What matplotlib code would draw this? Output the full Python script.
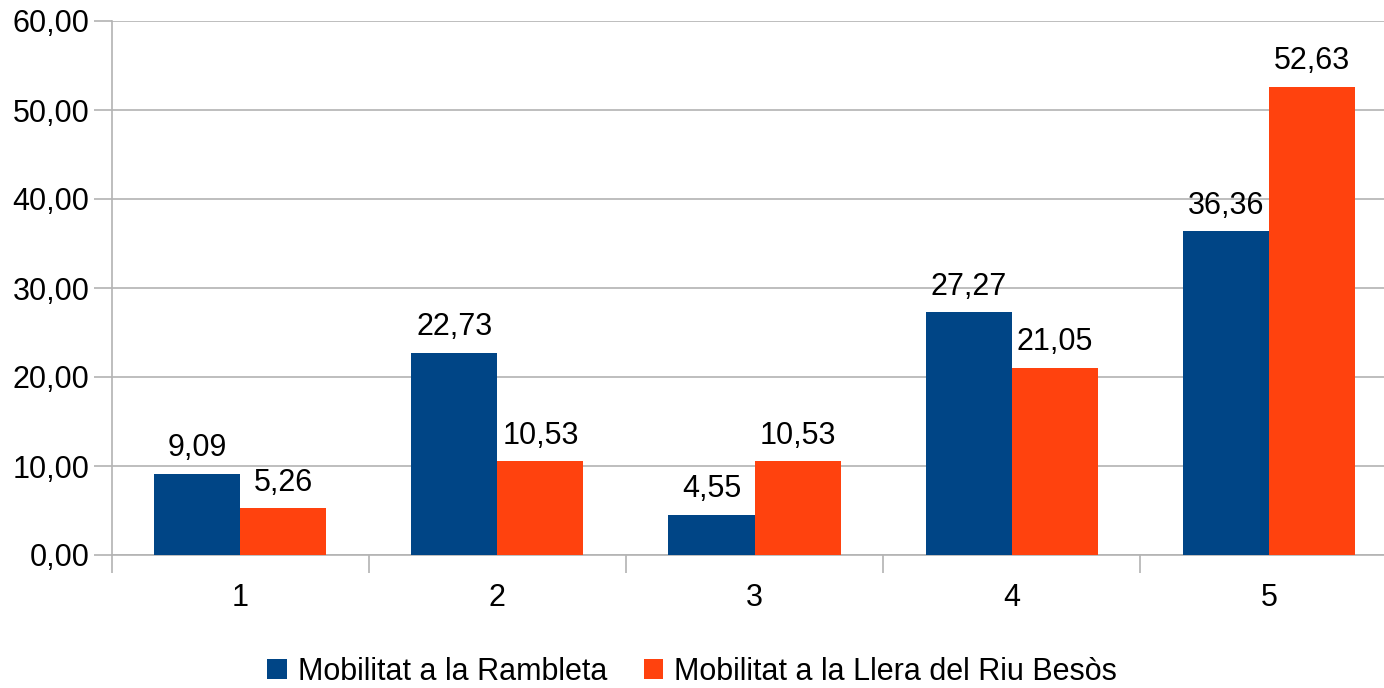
import matplotlib.pyplot as plt
import numpy as np

plt.rcParams['font.family'] = ['Liberation Sans', 'DejaVu Sans']

categories = ["1", "2", "3", "4", "5"]
rambleta = [9.09, 22.73, 4.55, 27.27, 36.36]
besos = [5.26, 10.53, 10.53, 21.05, 52.63]
series_names = ["Mobilitat a la Rambleta", "Mobilitat a la Llera del Riu Besòs"]
y_ticks = [0, 10, 20, 30, 40, 50, 60]

blue = "#004586"
orange = "#ff420e"
grid = "#b3b3b3"
fs = 22

fig = plt.figure(figsize=(13.84, 6.88), dpi=100)
ax = fig.add_axes([111.5 / 1384, 1 - 555 / 688, 1286 / 1384, 534 / 688])

x = np.arange(len(categories))
w = 0.335
b1 = ax.bar(x - w / 2, rambleta, w, color=blue, label=series_names[0], zorder=3)
b2 = ax.bar(x + w / 2, besos, w, color=orange, label=series_names[1], zorder=3)

def fmt(v):
    return f"{v:.2f}".replace(".", ",")

for bars, vals in ((b1, rambleta), (b2, besos)):
    for r, v in zip(bars, vals):
        ax.text(r.get_x() + r.get_width() / 2, v + 1.2, fmt(v),
                ha="center", va="bottom", fontsize=fs)

ax.set_xlim(-0.5, len(categories) - 0.5)
ax.set_ylim(0, 60)
ax.set_yticks(y_ticks)
ax.set_yticklabels([fmt(v) for v in y_ticks], fontsize=fs)
ax.yaxis.grid(True, color=grid, linewidth=1.2, zorder=0)

# category labels centred, tick marks at the boundaries
ax.set_xticks(x)
ax.set_xticklabels(categories, fontsize=fs)
ax.tick_params(axis="x", length=0, pad=20)
ax.set_xticks(np.arange(len(categories) + 1) - 0.5, minor=True)
ax.tick_params(axis="x", which="minor", length=13, color=grid, width=1.2)
ax.tick_params(axis="y", length=13, color=grid, width=1.2, pad=3)

for s in ["top", "right"]:
    ax.spines[s].set_visible(False)
for s in ["left", "bottom"]:
    ax.spines[s].set_color(grid)
    ax.spines[s].set_linewidth(1.2)

fig.legend(handles=[b1, b2], loc="center", bbox_to_anchor=(0.5, 1 - 672 / 688),
           ncol=2, frameon=False, fontsize=fs, handlelength=0.65, handleheight=0.65,
           handletextpad=0.35, columnspacing=1.2)

fig.savefig("out.png", dpi=100)
